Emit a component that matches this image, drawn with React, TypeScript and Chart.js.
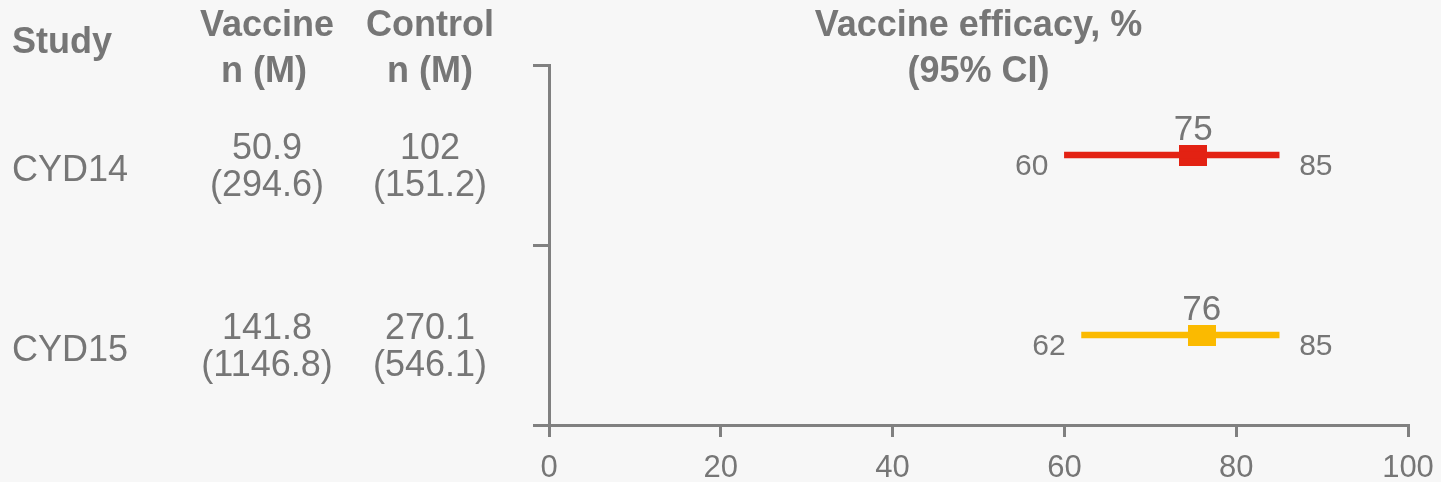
import React, { useEffect, useRef } from "react";
import { Chart, registerables } from "chart.js";

Chart.register(...registerables);

const studies = ["CYD14", "CYD15"];
const vaccineN = ["50.9", "141.8"];
const vaccineM = ["(294.6)", "(1146.8)"];
const controlN = ["102", "270.1"];
const controlM = ["(151.2)", "(546.1)"];
const efficacy = [75, 76];
const lowerCI = [60, 62];
const upperCI = [85, 85];
const colors = ["#e32213", "#fbba00"];
const xTicks = [0, 20, 40, 60, 80, 100];

const FONT = "'Liberation Sans', Arial, sans-serif";
const TEXT = "#767676";
const AXIS = "#808080";
const BG = "#f7f7f7";

function makeRect(color: string, w: number, h: number) {
  const c = document.createElement("canvas");
  c.width = w;
  c.height = h;
  const ctx = c.getContext("2d")!;
  ctx.fillStyle = color;
  ctx.fillRect(0, 0, w, h);
  return c;
}

const textPlugin = {
  id: "forestText",
  afterDraw(chart: any) {
    const ctx = chart.ctx as CanvasRenderingContext2D;
    const xs = chart.scales.x;
    const ys = chart.scales.y;
    const area = chart.chartArea;
    ctx.save();
    ctx.fillStyle = TEXT;
    ctx.textBaseline = "alphabetic";

    // headers
    ctx.font = `bold 36px ${FONT}`;
    ctx.textAlign = "left";
    ctx.fillText("Study", 12, 53);
    ctx.textAlign = "center";
    ctx.fillText("Vaccine", 267, 36);
    ctx.fillText("n (M)", 264, 82);
    ctx.fillText("Control", 430, 36);
    ctx.fillText("n (M)", 430, 82);
    const cx = (area.left + area.right) / 2;
    ctx.fillText("Vaccine efficacy, %", cx, 36);
    ctx.fillText("(95% CI)", cx, 82);

    // table rows
    ctx.font = `36px ${FONT}`;
    studies.forEach((s, i) => {
      const cy = ys.getPixelForValue(i);
      ctx.textAlign = "left";
      ctx.fillText(s, 12, cy + 26);
      ctx.textAlign = "center";
      ctx.fillText(vaccineN[i], 267, cy + 4);
      ctx.fillText(vaccineM[i], 267, cy + 41);
      ctx.fillText(controlN[i], 430, cy + 4);
      ctx.fillText(controlM[i], 430, cy + 41);
    });

    // value labels
    studies.forEach((_, i) => {
      const cy = ys.getPixelForValue(i);
      ctx.font = `35px ${FONT}`;
      ctx.textAlign = "center";
      ctx.fillText(String(efficacy[i]), xs.getPixelForValue(efficacy[i]), cy - 15);
      ctx.font = `30px ${FONT}`;
      ctx.textAlign = "right";
      ctx.fillText(String(lowerCI[i]), xs.getPixelForValue(lowerCI[i]) - 16, cy + 20);
      ctx.textAlign = "left";
      ctx.fillText(String(upperCI[i]), xs.getPixelForValue(upperCI[i]) + 20, cy + 20);
    });
    ctx.restore();
  },
};

export default function App() {
  const ref = useRef<HTMLCanvasElement | null>(null);

  useEffect(() => {
    document.body.style.margin = "0";
    document.body.style.background = BG;
    const canvas = ref.current!;
    const markers = colors.map((c) => makeRect(c, 28, 21));
    const chart = new Chart(canvas, {
      type: "bar",
      data: {
        labels: studies,
        datasets: [
          {
            type: "bar",
            data: studies.map((_, i) => [lowerCI[i], upperCI[i]]),
            backgroundColor: colors,
            barThickness: 6,
            borderWidth: 0,
            borderSkipped: false,
          } as any,
          {
            type: "scatter",
            data: studies.map((s, i) => ({ x: efficacy[i], y: s })),
            pointStyle: markers,
            pointRadius: 14,
            backgroundColor: colors,
            borderWidth: 0,
          } as any,
        ],
      },
      options: {
        indexAxis: "y",
        animation: false,
        responsive: false,
        devicePixelRatio: 1,
        layout: { padding: { left: 0, top: 65, right: 33, bottom: 0 } },
        plugins: { legend: { display: false }, tooltip: { enabled: false } },
        scales: {
          x: {
            type: "linear",
            min: 0,
            max: 100,
            afterBuildTicks: (scale: any) => {
              scale.ticks = xTicks.map((v) => ({ value: v }));
            },
            afterFit: (scale: any) => {
              scale.height = 57;
              scale.paddingLeft = 0;
              scale.paddingRight = 0;
            },
            grid: {
              drawOnChartArea: false,
              drawTicks: true,
              tickLength: 12,
              color: AXIS,
              lineWidth: 3,
            },
            border: { display: true, color: AXIS, width: 3 },
            ticks: {
              color: TEXT,
              font: { family: FONT, size: 31 },
              padding: 13,
              maxRotation: 0,
            },
          },
          y: {
            type: "category",
            labels: studies,
            offset: true,
            afterFit: (scale: any) => {
              scale.width = 549;
              scale.paddingTop = 0;
              scale.paddingBottom = 0;
            },
            grid: {
              offset: true,
              drawOnChartArea: false,
              drawTicks: true,
              tickLength: 16,
              color: AXIS,
              lineWidth: 3,
            },
            border: { display: true, color: AXIS, width: 3 },
            ticks: { display: false },
          },
        },
      } as any,
      plugins: [textPlugin],
    });
    return () => chart.destroy();
  }, []);

  return (
    <div style={{ width: 1441, height: 482, background: BG }}>
      <canvas ref={ref} width={1441} height={482} style={{ display: "block" }} />
    </div>
  );
}
